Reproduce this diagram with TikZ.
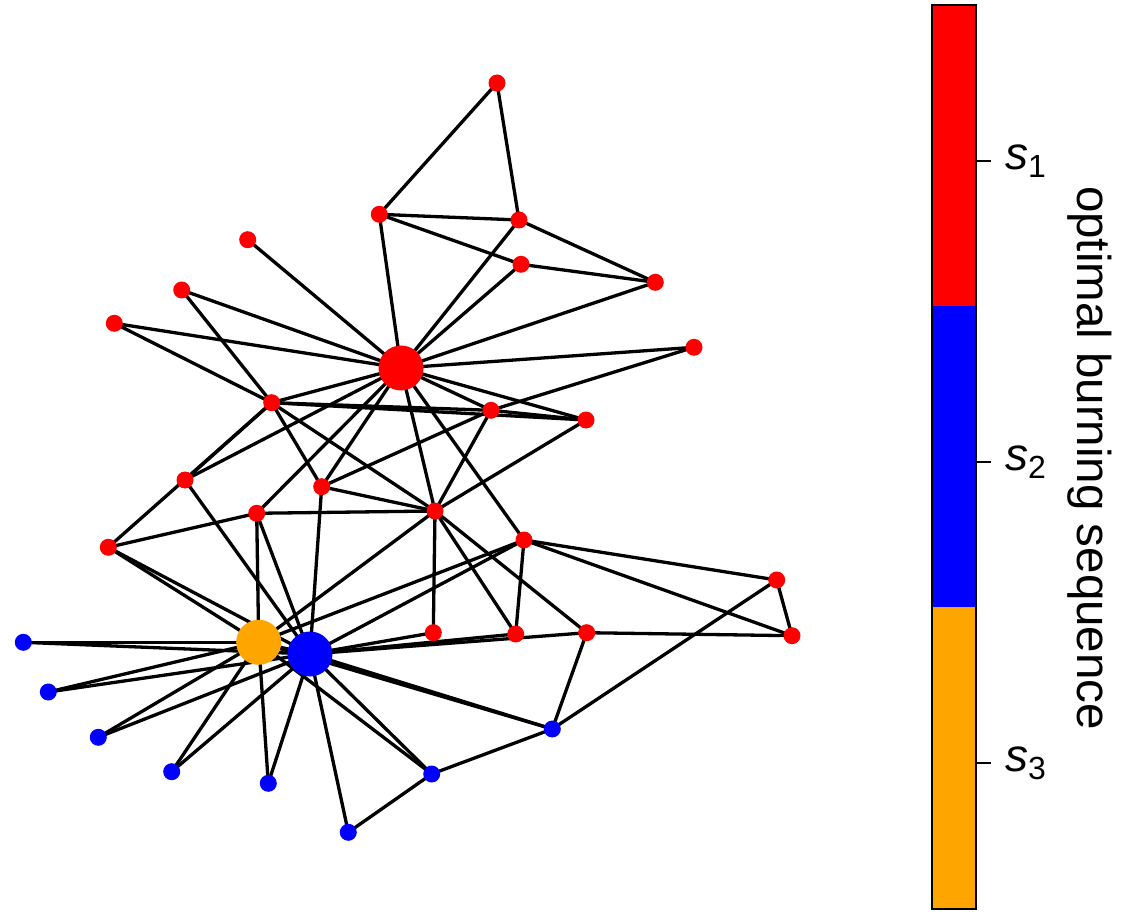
\documentclass[tikz,border=0pt]{standalone}
\usepackage{fontspec}
\setmainfont{Liberation Sans}
\usetikzlibrary{backgrounds}
\definecolor{burnorange}{RGB}{255,165,0}
\begin{document}
\begin{tikzpicture}[x=1pt,y=-1pt]
\tikzstyle{vertex}=[circle,inner sep=0pt,minimum size=17pt]
\tikzstyle{source}=[circle,inner sep=0pt,minimum size=45pt]
\tikzstyle{link}=[line width=3.3pt]
\tikzstyle{ticklabel}=[anchor=west,inner sep=0pt,font=\fontsize{46}{52}\selectfont]
\useasboundingbox (0,0) rectangle (1125,917);
% burning sources
\node[source,fill=red] (v0) at (401,368) {};
\node[source,fill=burnorange] (v32) at (258.7,642.3) {};
\node[source,fill=blue] (v33) at (310,654) {};
% red vertices
\node[vertex,fill=red] (v16) at (497,83) {};
\node[vertex,fill=red] (v5) at (379.3,214.3) {};
\node[vertex,fill=red] (v6) at (519,220) {};
\node[vertex,fill=red] (v10) at (521,264.3) {};
\node[vertex,fill=red] (v4) at (655.3,282.3) {};
\node[vertex,fill=red] (v12) at (694,347.3) {};
\node[vertex,fill=red] (v11) at (247.7,239.7) {};
\node[vertex,fill=red] (v17) at (181.7,290) {};
\node[vertex,fill=red] (v21) at (114.3,323.3) {};
\node[vertex,fill=red] (v1) at (271.7,402.7) {};
\node[vertex,fill=red] (v19) at (185,480) {};
\node[vertex,fill=red] (v13) at (321.7,486.7) {};
\node[vertex,fill=red] (v8) at (256.7,513.3) {};
\node[vertex,fill=red] (v30) at (108.3,547.3) {};
\node[vertex,fill=red] (v3) at (491,410.3) {};
\node[vertex,fill=red] (v7) at (586,420) {};
\node[vertex,fill=red] (v2) at (435,511) {};
\node[vertex,fill=red] (v31) at (524,540) {};
\node[vertex,fill=red] (v25) at (776.7,580) {};
\node[vertex,fill=red] (v24) at (792,635.7) {};
\node[vertex,fill=red] (v9) at (433.3,632.7) {};
\node[vertex,fill=red] (v28) at (515.7,634) {};
\node[vertex,fill=red] (v27) at (586.7,632.7) {};
% blue vertices
\node[vertex,fill=blue] (v14) at (23.3,642.3) {};
\node[vertex,fill=blue] (v15) at (48.3,692) {};
\node[vertex,fill=blue] (v18) at (98.3,737.3) {};
\node[vertex,fill=blue] (v20) at (171.7,771.7) {};
\node[vertex,fill=blue] (v22) at (268.3,783.3) {};
\node[vertex,fill=blue] (v26) at (348.3,832.3) {};
\node[vertex,fill=blue] (v29) at (431.7,774) {};
\node[vertex,fill=blue] (v23) at (552.3,729) {};
% edges, under the vertices
\begin{scope}[on background layer]
\foreach \a/\b in {0/1,0/2,0/3,0/4,0/5,0/6,0/7,0/8,0/10,0/11,0/12,0/13,0/17,0/19,0/21,0/31,
  1/2,1/3,1/7,1/13,1/17,1/19,1/21,1/30,
  2/3,2/7,2/8,2/9,2/13,2/27,2/28,2/32,
  3/7,3/12,3/13,4/6,4/10,5/6,5/10,5/16,6/16,
  8/30,8/32,8/33,9/33,13/33,
  14/32,14/33,15/32,15/33,18/32,18/33,20/32,20/33,22/32,22/33,19/33,
  23/25,23/27,23/29,23/32,23/33,24/25,24/27,24/31,25/31,
  26/29,26/33,27/33,28/31,28/33,29/32,29/33,30/32,30/33,31/32,31/33,32/33}
  \draw[link] (v\a.center) -- (v\b.center);
\end{scope}
% colour bar
\fill[red] (932,5) rectangle (976,306);
\fill[blue] (932,306) rectangle (976,607);
\fill[burnorange] (932,607) rectangle (976,909);
\draw[line width=2.5pt] (932,5) rectangle (976,909);
\foreach \y/\i in {161/1,462/2,763/3}{
  \draw[line width=2.2pt] (976,\y) -- (991,\y);
  \node[ticklabel] (tick\i) at (1005,\y) {\textit{s}\raisebox{-8pt}{\fontsize{32}{36}\selectfont\i}};
}
\node[rotate=-90,font=\fontsize{47.5}{54}\selectfont] (barlabel) at (1090,458) {optimal burning sequence};
\end{tikzpicture}
\end{document}
